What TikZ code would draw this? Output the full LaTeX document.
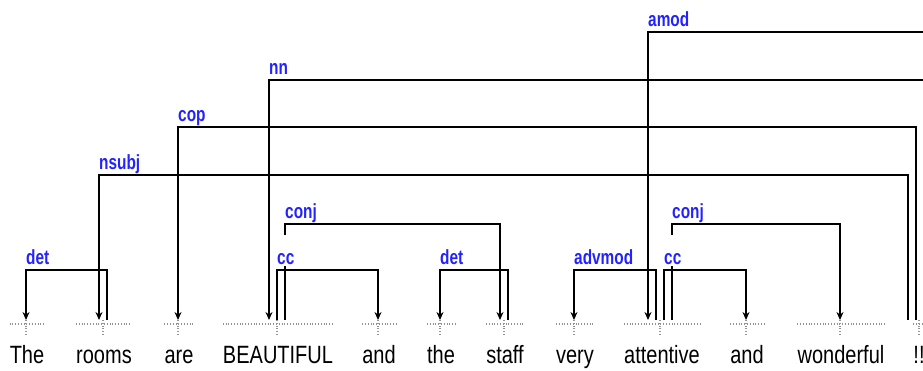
\documentclass[tikz,border=0pt]{standalone}
\usepackage{fontspec}
\setmainfont{Liberation Sans}
\newfontfamily\wordfont[FakeStretch=0.8]{Liberation Sans}
\newfontfamily\labfont[FakeStretch=0.75]{Liberation Sans}
\usetikzlibrary{arrows.meta}
\definecolor{labblue}{RGB}{35,35,255}
\begin{document}
\begin{tikzpicture}[x=1pt,y=-1pt,
  word/.style={font=\wordfont\fontsize{25}{25}\selectfont, inner sep=0pt, anchor=base},
  deplabel/.style={font=\labfont\bfseries\fontsize{20.5}{20.5}\selectfont, text=labblue, fill=white, inner sep=0pt, anchor=base west, text height=29pt, text depth=2pt},
  dep/.style={draw=black, line width=1.7pt},
  deparrow/.style={dep, -{Stealth[length=8pt,width=7pt]}},
  guide/.style={draw=gray!85, line width=1.2pt, dash pattern=on 1pt off 1.8pt},
]
\useasboundingbox (0,0) rectangle (923,370);

% words
\node[word] (w1) at (27,363) {The};
\node[word] (w2) at (104,363) {rooms};
\node[word] (w3) at (179,363) {are};
\node[word] (w4) at (278,363) {BEAUTIFUL};
\node[word] (w5) at (379,363) {and};
\node[word] (w6) at (441,363) {the};
\node[word] (w7) at (505,363) {staff};
\node[word] (w8) at (575,363) {very};
\node[word] (w9) at (662,363) {attentive};
\node[word] (w10) at (747,363) {and};
\node[word] (w11) at (841,363) {wonderful};
\node[word] (w12) at (919,363) {!!};

% dotted guides under the words
\foreach \w/\c in {w1/26,w2/103,w3/178,w4/277,w5/378,w6/440,w7/504,w8/574,w9/660,w10/746,w11/840,w12/919}{
  \draw[guide] (\w.west |- 0,324) -- (\w.east |- 0,324);
  \draw[guide] (\c,320) -- (\c,336);
}

% ports
\coordinate (The-in) at (26,320);
\coordinate (rooms-in) at (99,320);
\coordinate (rooms-out) at (107,320);
\coordinate (are-in) at (178,320);
\coordinate (B-in) at (269,320);
\coordinate (B-cc) at (277,320);
\coordinate (B-conj) at (285,320);
\coordinate (and1-in) at (378,320);
\coordinate (the-in) at (440,320);
\coordinate (staff-in) at (500,320);
\coordinate (staff-out) at (508,320);
\coordinate (very-in) at (574,320);
\coordinate (att-in) at (648,320);
\coordinate (att-adv) at (656,320);
\coordinate (att-cc) at (664,320);
\coordinate (att-conj) at (672,320);
\coordinate (and2-in) at (746,320);
\coordinate (won-in) at (840,320);
\coordinate (ex-nsubj) at (908,320);
\coordinate (ex-cop) at (916,320);
\coordinate (offR5) at (924,80);
\coordinate (offR6) at (924,32);

% arcs
\draw[deparrow] (rooms-out) |- (The-in |- 0,270) -- (The-in);
\draw[deparrow] (ex-nsubj) |- (rooms-in |- 0,175) -- (rooms-in);
\draw[deparrow] (ex-cop) |- (are-in |- 0,127) -- (are-in);
\draw[deparrow] (offR5) -| (B-in);
\draw[deparrow] (B-cc) |- (and1-in |- 0,270) -- (and1-in);
\draw[deparrow] (B-conj) |- (staff-in |- 0,224) -- (staff-in);
\draw[deparrow] (staff-out) |- (the-in |- 0,270) -- (the-in);
\draw[deparrow] (att-adv) |- (very-in |- 0,270) -- (very-in);
\draw[deparrow] (offR6) -| (att-in);
\draw[deparrow] (att-cc) |- (and2-in |- 0,270) -- (and2-in);
\draw[deparrow] (att-conj) |- (won-in |- 0,224) -- (won-in);

% labels
\node[deplabel] (l1) at (26,264) {det};
\node[deplabel] (l2) at (99,169) {nsubj};
\node[deplabel] (l3) at (178,121) {cop};
\node[deplabel] (l4) at (269,74) {nn};
\node[deplabel] (l5) at (277,264) {cc};
\node[deplabel] (l6) at (285,218) {conj};
\node[deplabel] (l7) at (440,264) {det};
\node[deplabel] (l8) at (574,264) {advmod};
\node[deplabel] (l9) at (648,26) {amod};
\node[deplabel] (l10) at (664,264) {cc};
\node[deplabel] (l11) at (672,218) {conj};
\end{tikzpicture}
\end{document}
